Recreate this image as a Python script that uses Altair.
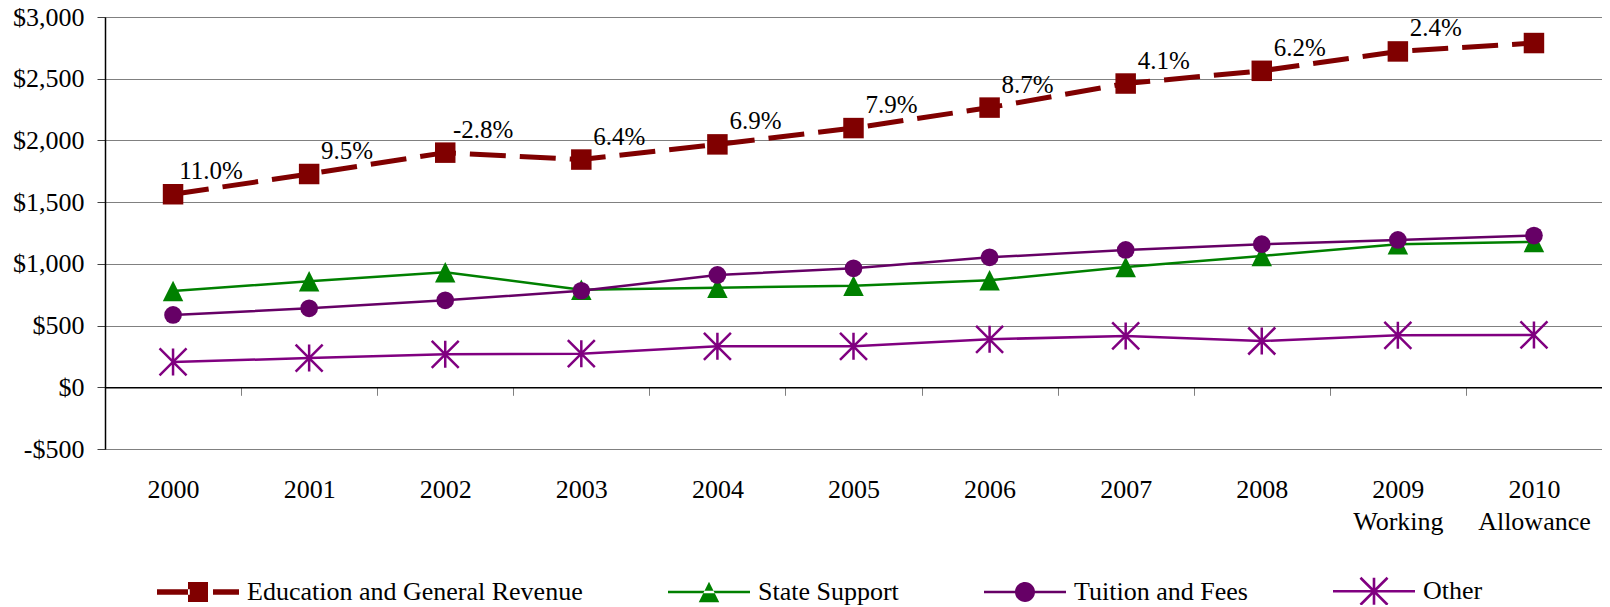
import math
import altair as alt
import pandas as pd

# ---------------- data ----------------
years = ["2000", "2001", "2002", "2003", "2004", "2005", "2006", "2007", "2008", "2009", "2010"]
year_sublabels = ["", "", "", "", "", "", "", "", "", "Working", "Allowance"]

series_names = ["Education and General Revenue", "State Support", "Tuition and Fees", "Other"]
eg_revenue = [1564, 1728, 1901, 1845, 1968, 2100, 2266, 2461, 2564, 2721, 2789]
state_support = [780, 860, 932, 790, 806, 823, 867, 975, 1064, 1159, 1178]
tuition_fees = [586, 640, 705, 782, 910, 964, 1053, 1113, 1159, 1194, 1229]
other = [205, 237, 267, 272, 332, 332, 389, 416, 375, 421, 424]
growth_labels = ["11.0%", "9.5%", "-2.8%", "6.4%", "6.9%", "7.9%", "8.7%", "4.1%", "6.2%", "2.4%", ""]

y_ticks = [-500, 0, 500, 1000, 1500, 2000, 2500, 3000]

# ---------------- tables ----------------
values_by_series = [eg_revenue, state_support, tuition_fees, other]
rows = []
for name, vals in zip(series_names, values_by_series):
    for yr, v in zip(years, vals):
        rows.append({"year": yr, "series": name, "value": v})
df = pd.DataFrame(rows)

df_lab = pd.DataFrame({"year": years, "value": eg_revenue, "label": growth_labels})
df_lab = df_lab[df_lab["label"] != ""]

# ---------------- styles ----------------
FONT = "Liberation Serif"
colors = ["#800000", "#008000", "#660066", "#800080"]


def bar(x1, y1, x2, y2, hw):
    L = math.hypot(x2 - x1, y2 - y1)
    nx, ny = -(y2 - y1) / L * hw, (x2 - x1) / L * hw
    pts = [(x1 + nx, y1 + ny), (x2 + nx, y2 + ny), (x2 - nx, y2 - ny), (x1 - nx, y1 - ny)]
    return "M" + "L".join(f"{a:.4f},{b:.4f}" for a, b in pts) + "Z"


sq = 0.244
legend_paths = [
    bar(-1, 0, -0.2, 0, 0.067) + f"M{-sq},{-sq}L{sq},{-sq}L{sq},{sq}L{-sq},{sq}Z" + bar(0.366, 0, 1, 0, 0.067),
    bar(-1, 0, 1, 0, 0.032) + "M0,-0.25L0.25,0.25L-0.25,0.25Z",
    bar(-1, 0, 1, 0, 0.032) + f"M{-sq},0A{sq},{sq} 0 1,0 {sq},0A{sq},{sq} 0 1,0 {-sq},0Z",
    bar(-1, 0, 1, 0, 0.032) + bar(0, -0.33, 0, 0.33, 0.032) + bar(-0.33, -0.33, 0.33, 0.33, 0.032)
    + bar(-0.33, 0.33, 0.33, -0.33, 0.032),
]

# x-axis label expression with second line for 2009/2010
expr = "datum.label"
for yr, sub in zip(years, year_sublabels):
    if sub:
        expr = f"datum.label == '{yr}' ? ['{yr}', '{sub}'] : " + expr

x_enc = alt.X(
    "year:N",
    sort=years,
    scale=alt.Scale(type="band", paddingInner=0, paddingOuter=0),
    axis=alt.Axis(
        title=None, labelAngle=0, labelExpr=expr, labelLineHeight=32, labelPadding=81,
        offset=-61.7, tickBand="extent", tickSize=8, tickColor="#808080", domainColor="black",
        domainWidth=1.5, grid=False, labelBaseline="top", labelFont=FONT, labelFontSize=26,
        labelColor="black",
    ),
)
y_enc = alt.Y(
    "value:Q",
    scale=alt.Scale(domain=[-500, 3000], nice=False, zero=False),
    axis=alt.Axis(
        title=None, values=y_ticks,
        labelExpr="datum.value < 0 ? '-$' + format(-datum.value, ',') : '$' + format(datum.value, ',')",
        grid=True, gridColor="#808080", gridWidth=1, domainColor="black", domainWidth=1.5,
        tickColor="#404040", tickSize=8, labelPadding=13, labelFont=FONT, labelFontSize=26,
        labelColor="black",
    ),
)

base = alt.Chart(df)
layers = []

line_styles = [
    dict(strokeWidth=5, strokeDash=[36, 14]),
    dict(strokeWidth=2.5),
    dict(strokeWidth=2.5),
    dict(strokeWidth=2.5),
]
marker_styles = [
    dict(shape="square", filled=True, size=420),
    dict(shape="M0,-1L1,1L-1,1Z", filled=True, size=420),
    dict(shape="circle", filled=True, size=314),
    dict(shape="M0,-1L0,1M-1,-1L1,1M-1,1L1,-1", filled=False, size=729, strokeWidth=2.5),
]

for name, col, ls, ms in zip(series_names, colors, line_styles, marker_styles):
    sub = base.transform_filter(alt.datum.series == name)
    layers.append(sub.mark_line(color=col, **ls).encode(x=x_enc, y=y_enc))
    layers.append(sub.mark_point(color=col, opacity=1, **ms).encode(x=x_enc, y=y_enc))

labels = alt.Chart(df_lab).mark_text(
    font=FONT, fontSize=25, color="black", dx=38, dy=-23
).encode(x=x_enc, y=y_enc, text="label:N")
layers.append(labels)

leg = alt.Legend(
    title=None, orient="none", direction="horizontal", columns=4,
    legendX=52, legendY=533, symbolSize=6724, symbolOpacity=1,
    symbolStrokeWidth=0, labelFont=FONT, labelFontSize=26,
    labelColor="black", labelOffset=8, columnPadding=85,
    labelLimit=600,
)
legend_layer = base.mark_point(filled=True, opacity=0).encode(
    x=x_enc,
    y=y_enc,
    color=alt.Color("series:N", scale=alt.Scale(domain=series_names, range=colors), legend=leg),
    shape=alt.Shape("series:N", scale=alt.Scale(domain=series_names, range=legend_paths), legend=leg),
)
layers.append(legend_layer)

chart = alt.layer(*layers).properties(
    width=1497,
    height=432,
    padding={"left": 97, "top": 9, "right": 0, "bottom": 156},
    autosize=alt.AutoSizeParams(type="none"),
).configure(font=FONT).configure_view(stroke="#404040", strokeWidth=1)

chart.save("out.html", embed_options={"renderer": "svg", "actions": False})
